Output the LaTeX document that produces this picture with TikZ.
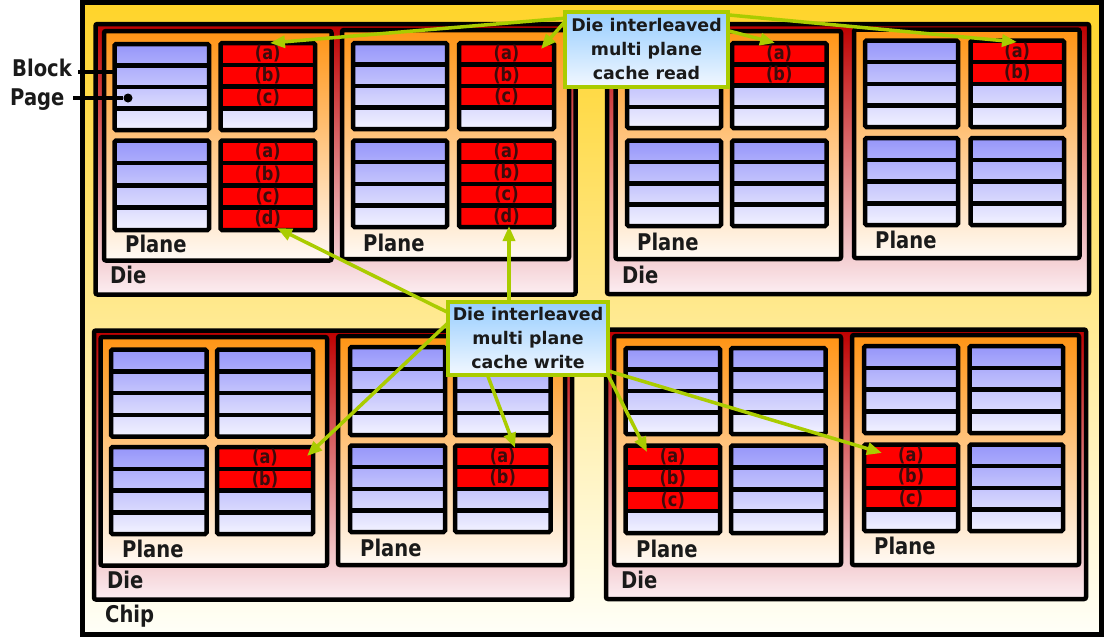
\documentclass[tikz,border=0pt]{standalone}
\usepackage{fontspec}
\usetikzlibrary{arrows.meta}
\newfontfamily\lblfont[FakeStretch=0.85]{DejaVu Sans}
\newfontfamily\calfont{DejaVu Sans}
\newfontfamily\pgfont[FakeStretch=0.85]{DejaVu Sans}
\definecolor{chipTop}{RGB}{255,212,42}
\definecolor{chipBot}{RGB}{255,255,248}
\definecolor{dieTop}{RGB}{190,0,0}
\definecolor{dieBot}{RGB}{252,238,242}
\definecolor{plTop}{RGB}{255,148,20}
\definecolor{plBot}{RGB}{255,250,245}
\definecolor{blkTop}{RGB}{150,150,250}
\definecolor{blkBot}{RGB}{242,242,255}
\definecolor{pgRed}{RGB}{255,0,0}
\definecolor{pgInk}{RGB}{60,12,12}
\definecolor{lime}{RGB}{170,204,0}
\definecolor{calTop}{RGB}{150,205,255}
\definecolor{calBot}{RGB}{242,248,255}
\definecolor{ink}{RGB}{26,26,26}
\pgfdeclarelayer{fg}
\pgfsetlayers{main,fg}
\tikzset{
 chipbox/.style={draw=black, line width=5pt, top color=chipTop, bottom color=chipBot, inner sep=0pt, outer sep=0pt},
 diebox/.style={draw=black, line width=4.5pt, rounded corners=2pt, top color=dieTop, bottom color=dieBot, inner sep=0pt, outer sep=0pt},
 planebox/.style={draw=black, line width=4.5pt, rounded corners=2pt, top color=plTop, bottom color=plBot, inner sep=0pt, outer sep=0pt},
 blkfill/.style={top color=blkTop, bottom color=blkBot, inner sep=0pt, outer sep=0pt},
 blkline/.style={draw=black, line width=4.5pt, rounded corners=1.5pt},
 sepline/.style={draw=black, line width=4.5pt},
 redpage/.style={fill=pgRed},
 pglbl/.style={font=\pgfont\bfseries\fontsize{19}{19}\selectfont, text=pgInk, inner sep=0pt},
 lbl/.style={font=\lblfont\bfseries\fontsize{23}{23}\selectfont, text=ink, inner sep=0pt, anchor=base west},
 callout/.style={draw=lime, line width=4.5pt, top color=calTop, bottom color=calBot, inner sep=0pt, outer sep=0pt, align=center, font=\calfont\bfseries\fontsize{17.4}{24}\selectfont, text=ink},
 arr/.style={draw=lime, line width=3.5pt, -{Triangle[length=15pt,width=12pt]}},
 leader/.style={draw=black, line width=4pt},
}
\newcommand\rectnode[6]{\node[#1, minimum width={(#5)-(#3)}, minimum height={(#6)-(#4)}] (#2) at ({((#3)+(#5))/2},{((#4)+(#6))/2}) {};}
\newcommand\blk[6]{%
  \node[blkfill, minimum width={(#4)-(#2)}, minimum height={(#5)-(#3)}] (#1) at ({((#2)+(#4))/2},{((#3)+(#5))/2}) {};
  \foreach \k in {1,...,4}{\ifnum\k>#6\relax\else
    \fill[redpage] (#2,{(#3)+(\k-1)*((#5)-(#3))/4}) rectangle (#4,{(#3)+\k*((#5)-(#3))/4});\fi}
  \foreach \k in {1,2,3}{\draw[sepline] (#2,{(#3)+\k*((#5)-(#3))/4}) -- (#4,{(#3)+\k*((#5)-(#3))/4});}
  \draw[blkline] (#1.south west) rectangle (#1.north east);
  \foreach \k/\l in {1/a,2/b,3/c,4/d}{\ifnum\k>#6\relax\else
    \node[pglbl] (#1-\l) at ({((#2)+(#4))/2},{(#3)+(\k-0.5)*((#5)-(#3))/4}) {(\l)};\fi}
}
\begin{document}
\begin{tikzpicture}[x=1pt,y=-1pt]
\useasboundingbox (0,0) rectangle (1104,637);
% chip
\rectnode{chipbox}{chip}{82.5}{2.5}{1101.5}{634.5}
% dies
\rectnode{diebox}{dieTL}{95.5}{24}{575.5}{294.5}
\rectnode{diebox}{dieTR}{607}{24}{1089}{294}
\rectnode{diebox}{dieBL}{94}{330.5}{572}{599.5}
\rectnode{diebox}{dieBR}{606}{329.5}{1086}{599}
% planes
\rectnode{planebox}{plTL1}{104}{31}{331.5}{260.5}
\rectnode{planebox}{plTL2}{342}{30}{569}{259}
\rectnode{planebox}{plTR1}{615.5}{31}{841}{259}
\rectnode{planebox}{plTR2}{854}{29.5}{1079.5}{258}
\rectnode{planebox}{plBL1}{100.5}{337}{327}{565.5}
\rectnode{planebox}{plBL2}{338}{336}{565}{565}
\rectnode{planebox}{plBR1}{614}{336}{841}{565}
\rectnode{planebox}{plBR2}{852}{335}{1079}{565}
% blocks
\blk{tl1a}{114.5}{44}{209}{130}{0}
\blk{tl1b}{220.5}{43}{315}{130}{3}
\blk{tl1c}{114.5}{140.5}{209}{230}{0}
\blk{tl1d}{220.5}{140.5}{315}{230}{4}
\blk{tl2a}{353}{43}{447}{129}{0}
\blk{tl2b}{459}{43}{554}{129}{3}
\blk{tl2c}{353}{140.5}{447}{227}{0}
\blk{tl2d}{459}{140.5}{554}{227}{4}
\blk{tr1a}{627}{43}{721}{128}{0}
\blk{tr1b}{732}{43}{826.5}{128}{2}
\blk{tr1c}{627}{140.5}{721}{226}{0}
\blk{tr1d}{732}{140.5}{826.5}{226}{0}
\blk{tr2a}{865}{40.5}{958}{127}{0}
\blk{tr2b}{970.5}{40.5}{1064}{127}{2}
\blk{tr2c}{865}{138}{958}{225}{0}
\blk{tr2d}{970.5}{138}{1064}{225}{0}
\blk{bl1a}{111}{349.5}{206.5}{436.5}{0}
\blk{bl1b}{217}{349.5}{313}{436.5}{0}
\blk{bl1c}{111}{447}{206.5}{534}{0}
\blk{bl1d}{217}{447}{313}{534}{2}
\blk{bl2a}{350}{347}{445}{435}{0}
\blk{bl2b}{455}{347}{550.5}{435}{0}
\blk{bl2c}{350}{445.5}{445}{532}{0}
\blk{bl2d}{455}{445.5}{550.5}{532}{2}
\blk{br1a}{625.5}{348}{720}{434}{0}
\blk{br1b}{731}{348}{825.5}{434}{0}
\blk{br1c}{625.5}{445.5}{720}{533}{3}
\blk{br1d}{731}{445.5}{825.5}{533}{0}
\blk{br2a}{864}{346}{958}{433}{0}
\blk{br2b}{969.5}{346}{1063}{433}{0}
\blk{br2c}{864}{444.5}{958}{531}{3}
\blk{br2d}{969.5}{444.5}{1063}{531}{0}
% labels
\node[lbl] (lpTL1) at (125,252) {Plane};
\node[lbl] (lpTL2) at (363,251) {Plane};
\node[lbl] (lpTR1) at (637,250) {Plane};
\node[lbl] (lpTR2) at (875,248) {Plane};
\node[lbl] (lpBL1) at (122,557) {Plane};
\node[lbl] (lpBL2) at (360,556) {Plane};
\node[lbl] (lpBR1) at (636,557) {Plane};
\node[lbl] (lpBR2) at (874,554) {Plane};
\node[lbl] (ldTL) at (110,283) {Die};
\node[lbl] (ldTR) at (622,283) {Die};
\node[lbl] (ldBL) at (107,588) {Die};
\node[lbl] (ldBR) at (621,588) {Die};
\node[lbl] (lchip) at (105,622) {Chip};
\node[lbl] (lblock) at (12,76) {Block};
\node[lbl] (lpage) at (10,105) {Page};
% leaders
\coordinate (blk-s) at (78,72);
\draw[leader] (blk-s) -- (blk-s -| tl1a.west);
\coordinate (pg-s) at (73,98);
\node[circle, fill=black, inner sep=0pt, minimum size=9pt] (pgdot) at (128,98) {};
\draw[leader] (pg-s) -- (pgdot);
% callouts
\begin{pgfonlayer}{fg}
\node[callout, minimum width=163pt, minimum height=75pt] (rd) at (646.5,49.5) {Die interleaved\\multi plane\\cache read};
\node[callout, minimum width=160pt, minimum height=73pt] (wr) at (528,338.5) {Die interleaved\\multi plane\\cache write};
\end{pgfonlayer}
% arrow tips
\coordinate (r1t) at (270,43);
\coordinate (r2t) at (541,49);
\coordinate (r3t) at (775,43);
\coordinate (r4t) at (1017,42);
\coordinate (w1t) at (277,228);
\coordinate (w2t) at (509,226);
\coordinate (w3t) at (307,456);
\coordinate (w4t) at (515,448);
\coordinate (w5t) at (647,452);
\coordinate (w6t) at (882,453);
\draw[arr] (rd.159) -- (r1t);
\draw[arr] (rd.161) -- (r2t);
\draw[arr] (rd.13.5) -- (r3t);
\draw[arr] (rd.23) -- (r4t);
\draw[arr] (wr.162) -- (w1t);
\draw[arr] (wr.north -| w2t) -- (w2t);
\draw[arr] (wr.169) -- (w3t);
\draw[arr] (wr.222) -- (w4t);
\draw[arr] (wr.south east) -- (w5t);
\draw[arr] (wr.338.5) -- (w6t);
\end{tikzpicture}
\end{document}
